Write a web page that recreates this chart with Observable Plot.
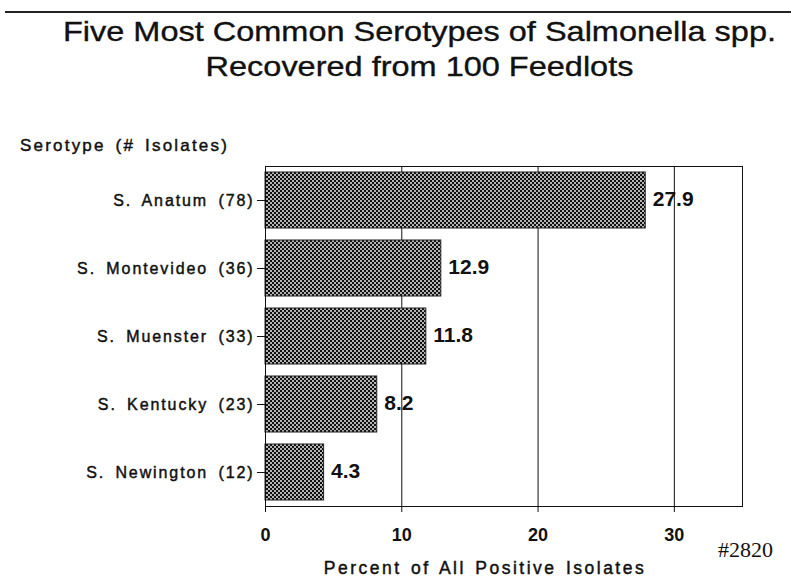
<!DOCTYPE html>
<html><head><meta charset="utf-8">
<script src="https://cdn.jsdelivr.net/npm/d3@7"></script>
<script src="https://cdn.jsdelivr.net/npm/@observablehq/plot@0.6"></script>
<style>
body{margin:0;background:#fff;font-family:"Liberation Sans",Arial,sans-serif;}
#wrap{position:relative;width:791px;height:578px;overflow:hidden;}
#rule{position:absolute;left:5px;right:0;top:11px;border-top:2px solid #222;}
#title{position:absolute;left:24px;width:791px;top:14px;text-align:center;font-size:28px;line-height:35px;color:#111;transform:scaleX(1.16);transform-origin:50% 0;white-space:nowrap;-webkit-text-stroke:0.35px #111;}
#ylab{position:absolute;left:20px;top:136px;font-size:17px;line-height:20px;letter-spacing:2.2px;word-spacing:3px;color:#111;white-space:nowrap;-webkit-text-stroke:0.45px #111;}
#xlab{position:absolute;left:235px;width:500px;top:558px;text-align:center;font-size:17.5px;line-height:20px;letter-spacing:2.5px;word-spacing:2px;color:#111;white-space:nowrap;-webkit-text-stroke:0.45px #111;}
#code{position:absolute;left:718px;top:537px;font-family:"Liberation Serif","Times New Roman",serif;font-size:22px;line-height:25px;color:#111;}
#chart{position:absolute;left:0;top:0;}
</style></head>
<body><div id="wrap">
<div id="rule"></div>
<div id="title">Five Most Common Serotypes of Salmonella spp.<br>Recovered from 100 Feedlots</div>
<div id="ylab">Serotype (# Isolates)</div>
<div id="chart"></div>
<div id="xlab">Percent of All Positive Isolates</div>
<div id="code">#2820</div>
</div>
<script>
const serotypes = ["S. Anatum (78)", "S. Montevideo (36)", "S. Muenster (33)", "S. Kentucky (23)", "S. Newington (12)"];
const percents = [27.9, 12.9, 11.8, 8.2, 4.3];
const xTicks = [0, 10, 20, 30];
const gridLines = [10, 20, 30];

const data = serotypes.map((s, i) => ({serotype: s, pct: percents[i]}));

const chart = Plot.plot({
  width: 791,
  height: 578,
  marginTop: 166,
  marginBottom: 72,
  marginLeft: 265,
  marginRight: 49,
  style: {fontFamily: "'Liberation Sans', Arial, sans-serif", color: "#111", background: "transparent"},
  x: {domain: [0, 35], ticks: xTicks, label: null},
  y: {domain: serotypes, label: null, paddingInner: 0.18, paddingOuter: 0.09},
  marks: [
    Plot.ruleX(gridLines, {stroke: "#111", strokeWidth: 1}),
    Plot.barX(data, {x: "pct", y: "serotype", fill: "url(#checks)", stroke: "#222", strokeWidth: 1}),
    Plot.text(data, {x: "pct", y: "serotype", text: d => d.pct.toFixed(1), dx: 7, dy: -1, textAnchor: "start", fontSize: 21, fontWeight: "bold", fill: "#111"}),
    Plot.frame({stroke: "#111", strokeWidth: 1}),
    Plot.axisX({ticks: xTicks, tickSize: 6, tickPadding: 16, fontSize: 18, fontWeight: "bold", stroke: "#111", label: null}),
    Plot.axisY({tickSize: 8, tickPadding: 3, fontSize: 16, stroke: "#111", label: null})
  ]
});

chart.querySelectorAll('[aria-label="y-axis tick label"] text').forEach(t => {
  t.setAttribute("letter-spacing", "1.9px");
  t.setAttribute("word-spacing", "4px");
  t.style.stroke = "#111";
  t.style.strokeWidth = "0.45px";
});

const svgNS = "http://www.w3.org/2000/svg";
const defs = document.createElementNS(svgNS, "defs");
defs.innerHTML = `<pattern id="checks" width="4" height="4" patternUnits="userSpaceOnUse">
  <rect width="4" height="4" fill="#111"/>
  <rect x="0" y="0" width="2" height="2" fill="#b4b4b4"/>
  <rect x="2" y="2" width="2" height="2" fill="#b4b4b4"/>
</pattern>`;
chart.insertBefore(defs, chart.firstChild);
document.getElementById("chart").appendChild(chart);
</script>
</body></html>
